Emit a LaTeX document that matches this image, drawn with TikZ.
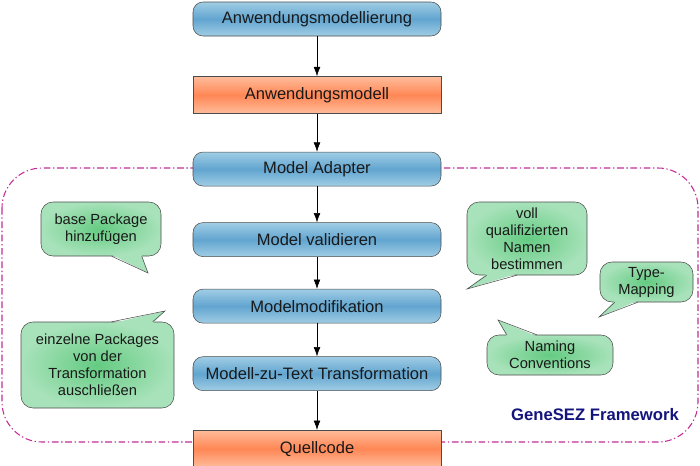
\documentclass[tikz,border=0pt]{standalone}
\usepackage{fontspec}
\setmainfont{Liberation Sans}
\usetikzlibrary{arrows.meta, positioning, calc}

\definecolor{blauhell}{RGB}{160,205,228}
\definecolor{blaumitte}{RGB}{98,165,208}
\definecolor{orangehell}{RGB}{255,188,155}
\definecolor{orangemitte}{RGB}{255,135,85}
\definecolor{gruenhell}{RGB}{168,226,186}
\definecolor{gruenmitte}{RGB}{100,203,130}
\definecolor{rahmenfarbe}{RGB}{195,45,150}
\definecolor{dunkelblau}{RGB}{20,20,125}

\begin{document}
\begin{tikzpicture}[
    x=0.75pt, y=-0.75pt,
    schritt/.style={rectangle, draw=black!70, rounded corners=7.5pt, minimum width=186pt, minimum height=25.5pt, inner sep=0pt, top color=blauhell, bottom color=blauhell, middle color=blaumitte, font=\fontsize{12.4}{14}\selectfont, text=black!90},
    artefakt/.style={rectangle, draw=black!70, minimum width=186pt, minimum height=27.75pt, inner sep=0pt, top color=orangehell, bottom color=orangehell, middle color=orangemitte, font=\fontsize{12.4}{14}\selectfont, text=black!90},
    hinweis/.style={rectangle, draw=black!70, rounded corners=9pt, inner sep=0pt, inner color=gruenmitte, outer color=gruenhell, align=center, font=\fontsize{11}{12.75}\selectfont, text=black!90},
    zeiger/.style={fill=gruenhell},
    zeigerrand/.style={draw=black!70},
    pfeil/.style={-{Latex[length=7pt,width=5pt]}, black}
]
    \useasboundingbox (0,0) rectangle (700,465);

    % Framework frame
    \draw[rahmenfarbe, line width=0.8pt, dash pattern=on 5pt off 2pt on 1pt off 2pt, rounded corners=30pt] (2,168) rectangle (698,442);
    \node[font=\fontsize{12.5}{14}\selectfont\bfseries, text=dunkelblau] (framework) at (595,415) {GeneSEZ Framework};

    % Steps
    \node[schritt] (amodellierung) at (317,19) {Anwendungsmodellierung};
    \node[artefakt, below=30pt of amodellierung] (amodell) {Anwendungsmodell};
    \node[schritt, below=28.5pt of amodell] (adapter) {Model Adapter};
    \node[schritt, below=27pt of adapter] (validieren) {Model validieren};
    \node[schritt, below=24pt of validieren] (modifikation) {Modelmodifikation};
    \node[schritt, below=24.75pt of modifikation] (mzt) {Modell-zu-Text Transformation};
    \node[artefakt, below=29.25pt of mzt] (quellcode) {Quellcode};

    % Arrows
    \draw[pfeil] (amodellierung) -- (amodell);
    \draw[pfeil] (amodell) -- (adapter);
    \draw[pfeil] (adapter) -- (validieren);
    \draw[pfeil] (validieren) -- (modifikation);
    \draw[pfeil] (modifikation) -- (mzt);
    \draw[pfeil] (mzt) -- (quellcode);

    % Notes
    \node[hinweis, minimum width=90pt, minimum height=40.5pt] (hbasis) at (101,229) {base Package\\hinzufügen};
    \node[hinweis, minimum width=90pt, minimum height=54.75pt] (hnamen) at (527,238.5) {voll\\qualifizierten\\Namen\\bestimmen};
    \node[hinweis, minimum width=69.75pt, minimum height=30pt] (htyp) at (646.5,282) {Type-\\Mapping};
    \node[hinweis, minimum width=94.5pt, minimum height=30pt] (hnaming) at (550,355) {Naming\\Conventions};
    \node[hinweis, minimum width=114.75pt, minimum height=64.5pt] (hpakete) at (97.5,365) {einzelne Packages\\von der\\Transformation\\auschließen};

    % Pointer tips
    \coordinate (sbasis) at (148,273);
    \coordinate (snamen) at (467,289);
    \coordinate (styp) at (599,317);
    \coordinate (snaming) at (498,320);
    \coordinate (spakete) at (165,311);

    \fill[zeiger] ($(hbasis.south west)+(71,-1.5)$) -- (sbasis) -- ($(hbasis.south west)+(101,-1.5)$) -- cycle;
    \draw[zeigerrand] ($(hbasis.south west)+(71,0)$) -- (sbasis) -- ($(hbasis.south west)+(101,0)$);
    \fill[zeiger] ($(hnamen.south west)+(20,-1.5)$) -- (snamen) -- ($(hnamen.south west)+(50,-1.5)$) -- cycle;
    \draw[zeigerrand] ($(hnamen.south west)+(20,0)$) -- (snamen) -- ($(hnamen.south west)+(50,0)$);
    \fill[zeiger] ($(htyp.south west)+(15,-1.5)$) -- (styp) -- ($(htyp.south west)+(38,-1.5)$) -- cycle;
    \draw[zeigerrand] ($(htyp.south west)+(15,0)$) -- (styp) -- ($(htyp.south west)+(38,0)$);
    \fill[zeiger] ($(hnaming.north west)+(20,1.5)$) -- (snaming) -- ($(hnaming.north west)+(50,1.5)$) -- cycle;
    \draw[zeigerrand] ($(hnaming.north west)+(20,0)$) -- (snaming) -- ($(hnaming.north west)+(50,0)$);
    \fill[zeiger] ($(hpakete.north west)+(91,1.5)$) -- (spakete) -- ($(hpakete.north west)+(132,1.5)$) -- cycle;
    \draw[zeigerrand] ($(hpakete.north west)+(91,0)$) -- (spakete) -- ($(hpakete.north west)+(132,0)$);
\end{tikzpicture}
\end{document}
